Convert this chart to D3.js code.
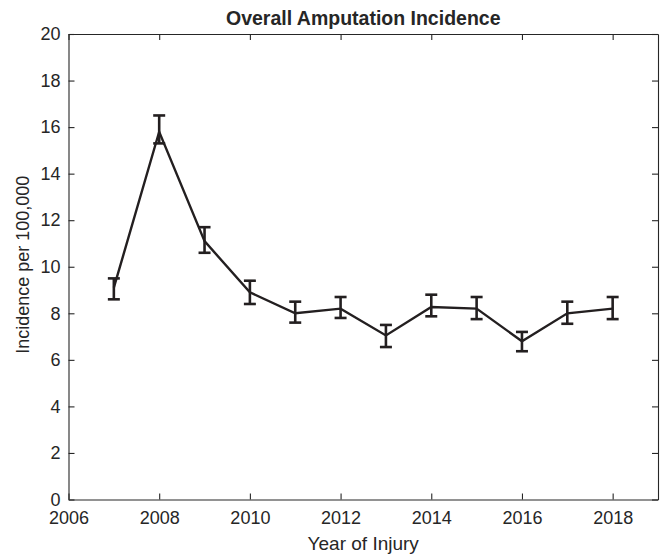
<!DOCTYPE html>
<html>
<head>
<meta charset="utf-8">
<script src="https://cdn.jsdelivr.net/npm/d3@7"></script>
<style>
  body { margin: 0; background: #fff; }
  svg text { font-family: "Liberation Sans", Arial, Helvetica, sans-serif; fill: #262626; }
</style>
</head>
<body>
<div id="chart"></div>
<script>
// data
const years = [2007, 2008, 2009, 2010, 2011, 2012, 2013, 2014, 2015, 2016, 2017, 2018];
const incidence = [9.1, 15.8, 11.1, 8.9, 8.0, 8.2, 7.05, 8.27, 8.2, 6.8, 8.0, 8.2];
const upper = [9.5, 16.5, 11.7, 9.4, 8.5, 8.7, 7.5, 8.8, 8.7, 7.2, 8.5, 8.7];
const lower = [8.6, 15.3, 10.6, 8.4, 7.6, 7.8, 6.55, 7.87, 7.75, 6.37, 7.55, 7.75];
const xTicks = [2006, 2008, 2010, 2012, 2014, 2016, 2018];
const yTicks = [0, 2, 4, 6, 8, 10, 12, 14, 16, 18, 20];

const width = 662;
const height = 555;
const margin = { top: 34, right: 4, bottom: 55.5, left: 68.5 };
const innerW = width - margin.left - margin.right;
const innerH = height - margin.top - margin.bottom;

const svg = d3.select('#chart')
  .append('svg')
  .attr('width', width)
  .attr('height', height);

const g = svg.append('g')
  .attr('transform', `translate(${margin.left},${margin.top})`);

const x = d3.scaleLinear().domain([2006, 2019]).range([0, innerW]);
const y = d3.scaleLinear().domain([0, 20]).range([innerH, 0]);

const axisColor = '#262626';
const tickLen = 6;

// bottom + left axes with labels
const xAxis = g.append('g')
  .attr('transform', `translate(0,${innerH})`)
  .call(d3.axisBottom(x).tickValues(xTicks).tickFormat(d3.format('d')).tickSizeInner(-tickLen).tickSizeOuter(0).tickPadding(12));
const yAxis = g.append('g')
  .call(d3.axisLeft(y).tickValues(yTicks).tickSizeInner(-tickLen).tickSizeOuter(0).tickPadding(8));

// top + right mirrored ticks, no labels
const xTop = g.append('g')
  .call(d3.axisTop(x).tickValues(xTicks).tickFormat('').tickSizeInner(-tickLen).tickSizeOuter(0));
const yRight = g.append('g')
  .attr('transform', `translate(${innerW},0)`)
  .call(d3.axisRight(y).tickValues(yTicks).tickFormat('').tickSizeInner(-tickLen).tickSizeOuter(0));

[xAxis, yAxis, xTop, yRight].forEach((a) => {
  a.select('.domain').attr('stroke', axisColor).attr('stroke-width', 1.1);
  a.selectAll('.tick line').attr('stroke', axisColor).attr('stroke-width', 1.1);
  a.selectAll('.tick text').attr('font-size', 18).attr('fill', axisColor);
});

// series
const data = years.map((yr, i) => ({
  year: yr, v: incidence[i], hi: upper[i], lo: lower[i],
}));

const line = d3.line().x((d) => x(d.year)).y((d) => y(d.v));
const ink = '#231f20';

g.append('path')
  .datum(data)
  .attr('fill', 'none')
  .attr('stroke', ink)
  .attr('stroke-width', 2.4)
  .attr('stroke-linejoin', 'miter')
  .attr('d', line);

const capW = 6;
const bars = g.selectAll('.err')
  .data(data)
  .enter()
  .append('g')
  .attr('class', 'err')
  .attr('stroke', ink)
  .attr('stroke-width', 2.6);

bars.append('line')
  .attr('x1', (d) => x(d.year)).attr('x2', (d) => x(d.year))
  .attr('y1', (d) => y(d.hi)).attr('y2', (d) => y(d.lo));
bars.append('line')
  .attr('x1', (d) => x(d.year) - capW).attr('x2', (d) => x(d.year) + capW)
  .attr('y1', (d) => y(d.hi)).attr('y2', (d) => y(d.hi));
bars.append('line')
  .attr('x1', (d) => x(d.year) - capW).attr('x2', (d) => x(d.year) + capW)
  .attr('y1', (d) => y(d.lo)).attr('y2', (d) => y(d.lo));

// titles
svg.append('text')
  .attr('x', margin.left + innerW / 2)
  .attr('y', 25)
  .attr('text-anchor', 'middle')
  .attr('font-size', 19.5)
  .attr('font-weight', 'bold')
  .text('Overall Amputation Incidence');

svg.append('text')
  .attr('x', margin.left + innerW / 2)
  .attr('y', 550)
  .attr('text-anchor', 'middle')
  .attr('font-size', 19)
  .text('Year of Injury');

svg.append('text')
  .attr('transform', `translate(28.5,${margin.top + innerH / 2 - 2}) rotate(-90)`)
  .attr('text-anchor', 'middle')
  .attr('font-size', 18)
  .text('Incidence per 100,000');
</script>
</body>
</html>
